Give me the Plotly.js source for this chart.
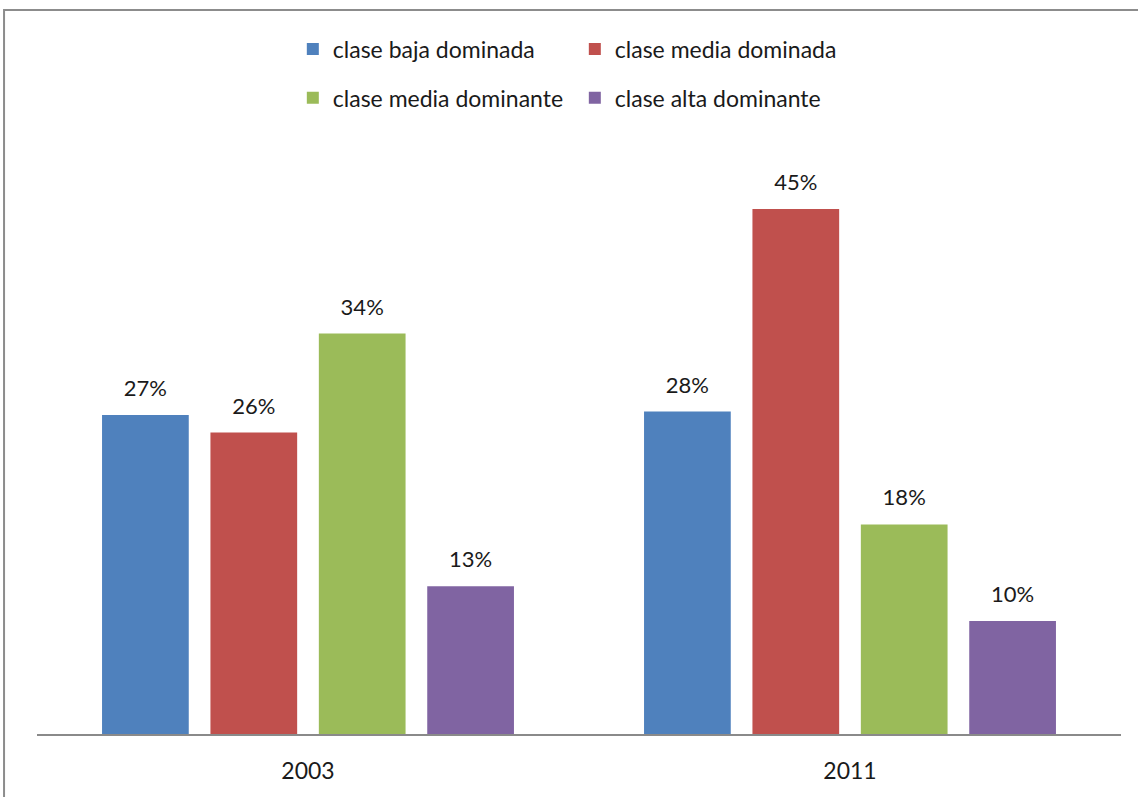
<!DOCTYPE html>
<html>
<head>
<meta charset="utf-8">
<script src="https://cdn.plot.ly/plotly-3.0.1.min.js"></script>
<style>
  html, body { margin: 0; padding: 0; background: #fff; }
  #chart { width: 1138px; height: 797px; }
</style>
</head>
<body>
<div id="chart"></div>
<script>
// Data
const years = ['2003', '2011'];
const seriesNames = ['clase baja dominada', 'clase media dominada', 'clase media dominante', 'clase alta dominante'];
const claseBajaDominada = [27.4, 27.7];
const claseMediaDominada = [25.9, 45.1];
const claseMediaDominante = [34.4, 18.0];
const claseAltaDominante = [12.7, 9.7];
const seriesValues = [claseBajaDominada, claseMediaDominada, claseMediaDominante, claseAltaDominante];
const colors = ['#4F81BD', '#C0504D', '#9BBB59', '#8064A2'];

const FONT = 'Lato, "Open Sans", sans-serif';
const traces = [];
seriesValues.forEach((vals, i) => {
  traces.push({
    type: 'bar',
    name: seriesNames[i],
    x: years,
    y: vals,
    marker: { color: colors[i] },
    offsetgroup: String(i),
    alignmentgroup: 'a',
    legend: i < 2 ? 'legend' : 'legend2',
    hoverinfo: 'skip'
  });
});
seriesValues.forEach((vals, i) => {
  traces.push({
    type: 'scatter',
    mode: 'markers+text',
    x: years,
    y: vals,
    text: vals.map(v => Math.round(v) + '%'),
    textposition: 'top center',
    textfont: { family: FONT, size: 22, color: '#1a1a1a' },
    marker: { size: 20, opacity: 0 },
    offsetgroup: String(i),
    alignmentgroup: 'a',
    showlegend: false,
    cliponaxis: false,
    hoverinfo: 'skip'
  });
});

const legendFont = { family: FONT, size: 23, color: '#1a1a1a' };
const layout = {
  width: 1138, height: 797,
  margin: { l: 37, r: 17, t: 152, b: 63 },
  paper_bgcolor: '#ffffff',
  plot_bgcolor: '#ffffff',
  font: { family: FONT, size: 22, color: '#1a1a1a' },
  barmode: 'group',
  scattermode: 'group',
  bargap: 0.2,
  bargroupgap: 0.2,
  showlegend: true,
  legend: {
    orientation: 'h', x: 0.236, xanchor: 'left', y: 1.177, yanchor: 'middle',
    entrywidth: 237, entrywidthmode: 'pixels',
    font: legendFont,
    bgcolor: 'rgba(0,0,0,0)'
  },
  legend2: {
    orientation: 'h', x: 0.236, xanchor: 'left', y: 1.093, yanchor: 'middle',
    entrywidth: 237, entrywidthmode: 'pixels',
    font: legendFont,
    bgcolor: 'rgba(0,0,0,0)'
  },
  xaxis: {
    type: 'category',
    showgrid: false, zeroline: false,
    showline: true, linecolor: '#8a8a8a', linewidth: 2,
    ticks: 'outside', ticklen: 15, tickcolor: 'rgba(0,0,0,0)',
    tickfont: { family: FONT, size: 23, color: '#1a1a1a' },
    fixedrange: true
  },
  yaxis: {
    range: [0, 50],
    visible: false,
    showgrid: false, zeroline: false,
    fixedrange: true
  },
  shapes: [{
    type: 'rect', xref: 'paper', yref: 'paper',
    x0: -0.0304, x1: 1.05, y0: -0.3, y1: 1.244,
    line: { color: '#8c8c8c', width: 2 },
    fillcolor: 'rgba(0,0,0,0)', layer: 'below'
  }]
};

Plotly.newPlot('chart', traces, layout, { displayModeBar: false, staticPlot: true });
</script>
</body>
</html>
